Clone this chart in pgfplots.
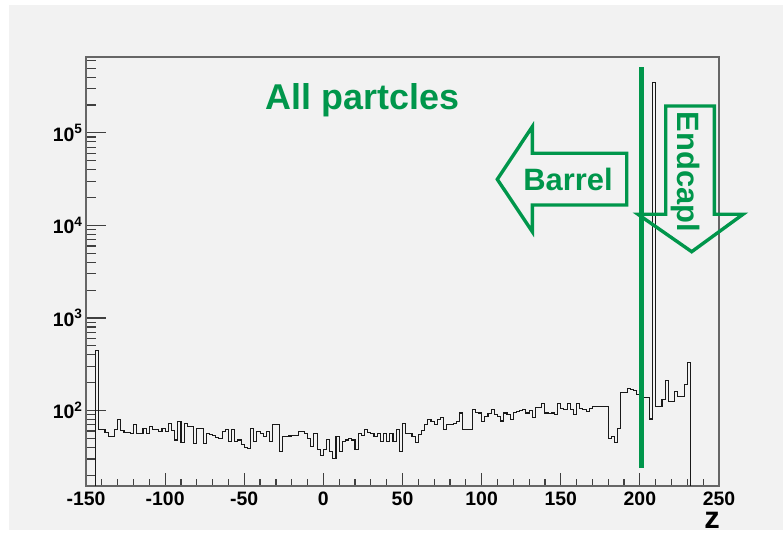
\documentclass[border=0pt]{standalone}
\usepackage{fontspec}
\setmainfont{Liberation Sans}
\usepackage{pgfplots}
\pgfplotsset{compat=1.18}
\definecolor{rootgray}{RGB}{242,242,242}
\definecolor{zgreen}{RGB}{0,150,75}

\begin{document}
\begin{tikzpicture}[x=1bp,y=1bp]
\useasboundingbox (0,0) rectangle (783,536);
\fill[white] (0,0) rectangle (783,536);
\fill[rootgray] (9,6) rectangle (783,531);
\begin{axis}[
    at={(86bp,50bp)}, anchor=south west,
    scale only axis, width=633bp, height=429bp,
    ymode=log,
    xmin=-150, xmax=250, ymin=15.3, ymax=6.6e5,
    axis line style={black!60, line width=1.6bp},
    xtick={-150,-100,...,250},
    xticklabels={-150,-100,-50,0,50,100,150,200,250},
    minor xtick={-140,-130,...,240},
    ytick={100,1000,10000,100000},
    yticklabels={10\textsuperscript{2},10\textsuperscript{3},10\textsuperscript{4},10\textsuperscript{5}},
    minor ytick={20,30,40,50,60,70,80,90,200,300,400,500,600,700,800,900,
        2000,3000,4000,5000,6000,7000,8000,9000,20000,30000,40000,50000,60000,70000,80000,90000,
        200000,300000,400000,500000,600000},
    tick align=inside, xtick pos=bottom, ytick pos=left,
    tick style={black!75, line width=1.2bp},
    x tick style={/pgfplots/major tick length=13bp, /pgfplots/minor tick length=7bp},
    y tick style={/pgfplots/major tick length=20bp, /pgfplots/minor tick length=10bp},
    ticklabel style={font=\bfseries\fontsize{19.5}{19.5}\selectfont},
    xticklabel style={inner ysep=2bp, yshift=-4bp},
]
\addplot[const plot, black!90, line width=1.1bp] coordinates {
(-146,1) (-144,446) (-142,63) (-140,63) (-138,58) (-136,52) (-134,52) (-132,62) (-130,80)
(-128,61) (-126,58) (-124,58) (-122,56) (-120,70) (-118,57) (-116,57) (-114,64) (-112,57)
(-110,67) (-108,62) (-106,62) (-104,60) (-102,64) (-100,59) (-98,73) (-96,61) (-94,48)
(-92,76) (-90,45) (-88,73) (-86,67) (-84,67) (-82,44) (-80,64) (-78,64) (-76,44) (-74,57)
(-72,55) (-70,54) (-68,51) (-66,50) (-64,59) (-62,62) (-60,46) (-58,62) (-56,46) (-54,48)
(-52,43) (-50,40) (-48,39) (-46,64) (-44,46) (-42,59) (-40,57) (-38,52) (-36,59) (-34,46)
(-32,70) (-30,70) (-28,36) (-26,52) (-24,52) (-22,53) (-20,54) (-18,54) (-16,59) (-14,59)
(-12,57) (-10,50) (-8,41) (-6,57) (-4,38) (-2,33) (0,38) (2,49) (4,36) (6,30) (8,52)
(10,36) (12,46) (14,48) (16,50) (18,48) (20,38) (22,57) (24,54) (26,62) (28,58) (30,57)
(32,52) (34,57) (36,46) (38,57) (40,46) (42,57) (44,46) (46,62) (48,36) (50,72) (52,56)
(54,56) (56,52) (58,45) (60,55) (62,61) (64,70) (66,80) (68,76) (70,70) (72,80) (74,84)
(76,62) (78,70) (80,70) (82,72) (84,76) (86,94) (88,63) (90,63) (92,63) (94,102) (96,96)
(98,94) (100,76) (102,87) (104,92) (106,102) (108,90) (110,87) (112,77) (114,94) (116,90)
(118,80) (120,96) (122,98) (124,100) (126,102) (128,94) (130,100) (132,84) (134,108)
(136,108) (138,120) (140,94) (142,93) (144,94) (146,90) (148,120) (150,104) (152,102)
(154,120) (156,102) (158,90) (160,120) (162,106) (164,102) (166,98) (168,106) (170,110)
(172,110) (174,110) (176,110) (178,110) (180,50) (182,52) (184,45) (186,64) (188,155)
(190,158) (192,174) (194,170) (196,165) (198,150) (200,150) (202,138) (204,138) (206,81)
(208,350000) (210,110) (212,110) (214,133) (216,210) (218,125) (220,125) (222,160)
(224,142) (226,142) (228,190) (230,330) (232,1) (234,1)
};
\addplot[zgreen, line width=4.2bp] coordinates {(201,24.2) (201,5.2e5)};
\end{axis}
% annotations
\node[anchor=base, text=zgreen, font=\bfseries\fontsize{36}{36}\selectfont] at (362.5,426.7) {All partcles};
\draw[zgreen, line width=3.4bp, line join=miter] (497.3,356.7) -- (532.3,409.3) -- (532.3,382.7)
    -- (626.7,382.7) -- (626.7,331) -- (532.3,331) -- (532.3,304.3) -- cycle;
\node[anchor=base, text=zgreen, font=\bfseries\fontsize{31}{31}\selectfont] at (568,345) {Barrel};
\draw[zgreen, line width=3.4bp, line join=miter] (665.7,430) -- (714.3,430) -- (714.3,321.7)
    -- (743,321.7) -- (691.7,284.3) -- (638,321.7) -- (665.7,321.7) -- cycle;
\node[anchor=base, rotate=-90, text=zgreen, font=\bfseries\fontsize{31}{31}\selectfont] at (677,364) {Endcapl};
\node[anchor=base, inner sep=0pt, font=\bfseries\fontsize{31}{31}\selectfont] at (712,7.5) {z};
\end{tikzpicture}
\end{document}
